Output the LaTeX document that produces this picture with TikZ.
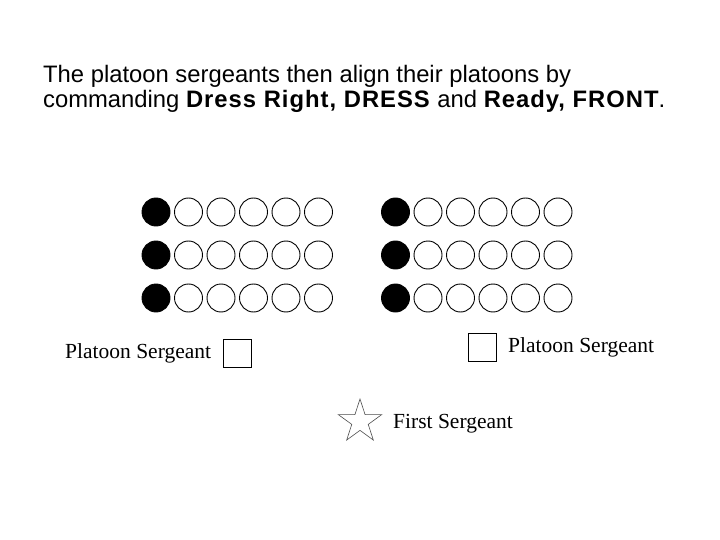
\documentclass[tikz,border=0pt]{standalone}
\usepackage{fontspec}
\setmainfont{Liberation Sans}
\newfontfamily\labelfont{Liberation Serif}
\newcommand\cmdword[1]{\textbf{\addfontfeatures{LetterSpace=4.2}#1}}
\usetikzlibrary{shapes.geometric}
\begin{document}
\begin{tikzpicture}[x=1pt,y=-1pt,
  soldier/.style={circle,draw=black,line width=0.9pt,minimum size=28pt,inner sep=0pt},
  leader/.style={soldier,fill=black},
  sgtbox/.style={rectangle,draw=black,line width=0.9pt,minimum width=28pt,minimum height=28pt,inner sep=0pt},
  titletext/.style={anchor=base west,inner sep=0pt,font=\fontsize{23.8}{27}\selectfont},
  labeltext/.style={anchor=base west,inner sep=0pt,font=\labelfont\fontsize{21.5}{24}\selectfont}]
\useasboundingbox (0,0) rectangle (720,540);
\node[titletext] (title1) at (43,83) {The platoon sergeants then align their platoons by};
\node[titletext] (title2) at (43,108) {commanding \cmdword{Dress Right, DRESS} and \cmdword{Ready, FRONT}.};
\foreach \gx/\g in {156/L,395.5/R}{
  \foreach \r/\ry in {1/212,2/255,3/298}{
    \node[leader] (\g\r c0) at (\gx,\ry) {};
    \foreach \c in {1,...,5}{
      \node[soldier] (\g\r c\c) at ({\gx+32.5*\c},\ry) {};
    }
  }
}
\node[labeltext] (psl) at (65,358) {Platoon Sergeant};
\node[sgtbox] (boxl) at (237,353.5) {};
\node[sgtbox] (boxr) at (482,347) {};
\node[labeltext] (psr) at (508,352) {Platoon Sergeant};
\node[star,star points=5,star point ratio=2.618,draw=black!70,line width=0.6pt,minimum size=45.4pt,inner sep=0pt] (fs) at (360,421.7) {};
\node[labeltext] (fsl) at (393,428) {First Sergeant};
\end{tikzpicture}
\end{document}
